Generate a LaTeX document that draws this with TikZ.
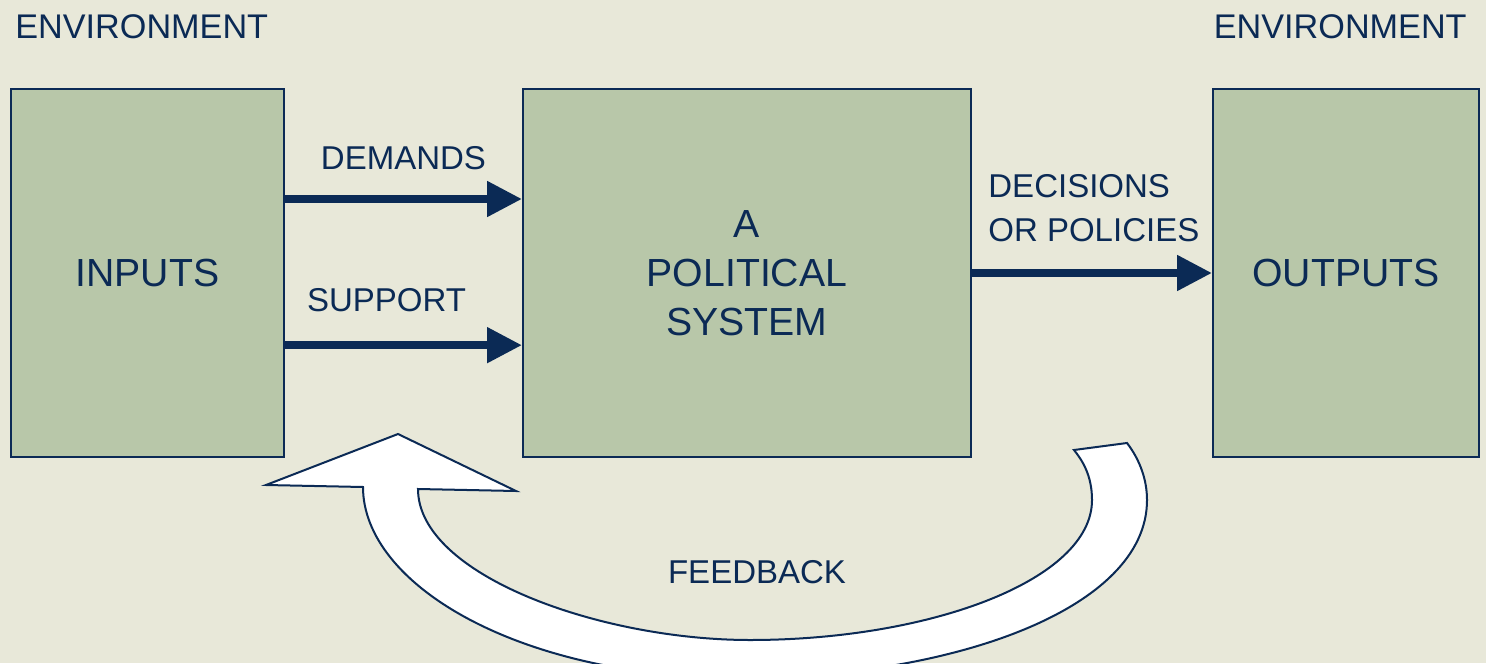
\documentclass[tikz,border=0pt]{standalone}
\usepackage{fontspec}
\setmainfont{Liberation Sans}
\usetikzlibrary{arrows.meta}
\usetikzlibrary{calc}
\definecolor{navy}{HTML}{0B2A55}
\definecolor{boxgreen}{HTML}{B8C7A9}
\definecolor{paper}{HTML}{E8E8D9}
\tikzset{sysbox/.style={draw=navy, line width=1pt, fill=boxgreen, text=navy, inner sep=0pt, minimum height=184pt},
  bigtext/.style={font=\fontsize{19.6}{24.5}\selectfont},
  smalltext/.style={font=\fontsize{16.5}{22}\selectfont, text=navy, inner sep=0pt},
  flow/.style={draw=navy, line width=4pt, -{Triangle[length=17.5pt,width=17pt]}},
  backarrow/.style={draw=navy, line width=1pt, fill=white}}

\begin{document}
\begin{tikzpicture}[x=0.5pt,y=-0.5pt]
%%
\fill [paper] (0,0) rectangle (1486,663);
\useasboundingbox (0,0) rectangle (1486,663);
\node (envl) at (15,39) [smalltext,font=\fontsize{17.1}{22}\selectfont,anchor=base west] {ENVIRONMENT};
\node (envr) at (1467,39) [smalltext,font=\fontsize{17.1}{22}\selectfont,anchor=base east] {ENVIRONMENT};
\node (inputs) at (147.5,273) [sysbox,bigtext,minimum width=136.5pt] {INPUTS};
\node (polsys) at (747,273) [sysbox,bigtext,minimum width=224pt,align=center] {A\\POLITICAL\\SYSTEM};
\node (outputs) at (1346,273) [sysbox,bigtext,minimum width=133pt] {OUTPUTS};
\draw [flow] ($(inputs.north east)!0.30!(inputs.south east)$) -- ($(polsys.north west)!0.30!(polsys.south west)$)
  node [midway,smalltext,anchor=base,yshift=15pt] {DEMANDS};
\draw [flow] ($(inputs.north east)!0.695!(inputs.south east)$) -- ($(polsys.north west)!0.695!(polsys.south west)$)
  node [midway,smalltext,anchor=base,yshift=17pt,xshift=-8.5pt] {SUPPORT};
\draw [flow] (polsys.east) -- (outputs.west);
\node (dec) at ([xshift=8pt,yshift=15.5pt]polsys.east) [smalltext,anchor=base west,align=left] {DECISIONS\\OR POLICIES};
%
\begin{scope}
\clip (0,0) rectangle (1486,663);
\draw [backarrow] (398,434) -- (516,491) -- (418,489)
  .. controls (418,575) and (600,640) .. (750,640)
  .. controls (930,640) and (1092,580) .. (1092,500)
  .. controls (1092,475) and (1082,460) .. (1074,450)
  -- (1127,443)
  .. controls (1140,460) and (1147,480) .. (1147,500)
  .. controls (1147,610) and (950,678) .. (740,678)
  .. controls (520,678) and (363,585) .. (363,487)
  -- (266,485) -- cycle;
\end{scope}
\node (fb) at (757,583) [smalltext,anchor=base] {FEEDBACK};
%
\end{tikzpicture}
\end{document}
